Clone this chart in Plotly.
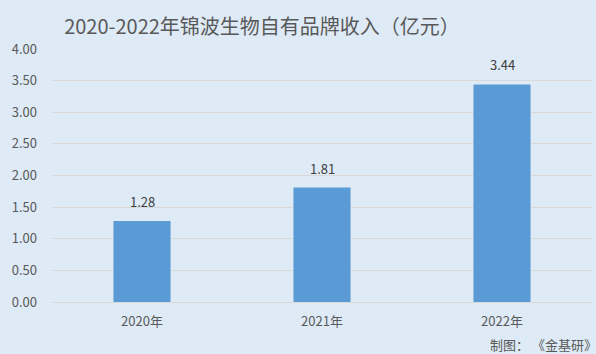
import plotly.graph_objects as go

categories = ["2020年", "2021年", "2022年"]
values = [1.28, 1.81, 3.44]
y_ticks = [0, 0.5, 1.0, 1.5, 2.0, 2.5, 3.0, 3.5, 4.0]
title_text = "2020-2022年锦波生物自有品牌收入（亿元）"
source_text = "制图： 《金基研》"

FONT = "Microsoft YaHei, Noto Sans CJK SC, sans-serif"
BG = "#DEEAF6"

fig = go.Figure(go.Bar(
    x=categories, y=values, width=0.317,
    marker=dict(color="#5B9BD5", line=dict(width=0)),
    hoverinfo="skip",
))

annotations = [dict(x=c, y=v, text=f"{v:.2f}", showarrow=False, yanchor="bottom", yshift=8,
                    font=dict(size=13, color="#404040", family=FONT))
               for c, v in zip(categories, values)]
annotations.append(dict(text=source_text, x=1, y=0, xref="paper", yref="paper",
                        xanchor="right", yanchor="middle", yshift=-42, xshift=7, showarrow=False,
                        font=dict(size=13, color="#595959", family=FONT)))

fig.update_layout(
    width=596, height=354,
    margin=dict(l=52, r=4, t=49, b=52),
    paper_bgcolor=BG, plot_bgcolor=BG,
    showlegend=False,
    font=dict(family=FONT, color="#595959"),
    title=dict(text=title_text, x=262/596, xanchor="center", y=1-27/354, yanchor="middle",
               font=dict(size=20, color="#595959", family=FONT)),
    xaxis=dict(showgrid=False, showline=True, linecolor="#D9D9D9", linewidth=1,
               tickfont=dict(size=13, color="#595959"), ticks="", ticklabelstandoff=7),
    yaxis=dict(range=[0, 4.0], tickvals=y_ticks, ticktext=[f"{t:.2f}" for t in y_ticks],
               showgrid=True, gridcolor="#D9D9D9", gridwidth=1, zeroline=False,
               showline=False, ticks="", ticklabelstandoff=14,
               tickfont=dict(size=13, color="#595959")),
    annotations=annotations,
)

fig.write_html("out.html")
